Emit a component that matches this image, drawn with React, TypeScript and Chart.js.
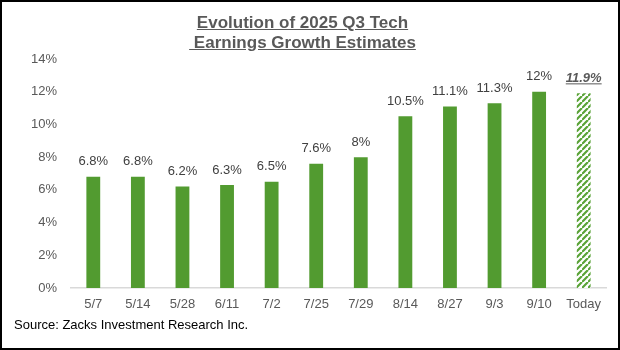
import React, { useEffect, useRef } from "react";
import { Chart, registerables } from "chart.js";

Chart.register(...registerables);

const categories = ["5/7", "5/14", "5/28", "6/11", "7/2", "7/25", "7/29", "8/14", "8/27", "9/3", "9/10", "Today"];
const growthValues = [6.8, 6.8, 6.2, 6.3, 6.5, 7.6, 8, 10.5, 11.1, 11.3, 12, 11.9];
const yTickValues = [0, 2, 4, 6, 8, 10, 12, 14];
const titleLines = ["Evolution of 2025 Q3 Tech", " Earnings Growth Estimates"];
const sourceText = "Source: Zacks Investment Research Inc.";

const GREEN = "#529B30";
const FONT = "Arial, 'Liberation Sans', sans-serif";

function makeHatch(ctx: CanvasRenderingContext2D): CanvasPattern | string {
  const size = 6;
  const c = document.createElement("canvas");
  c.width = size;
  c.height = size;
  const p = c.getContext("2d");
  if (!p) return GREEN;
  p.fillStyle = "#ffffff";
  p.fillRect(0, 0, size, size);
  p.strokeStyle = "#5AA338";
  p.lineWidth = 2.2;
  p.beginPath();
  p.moveTo(0, size);
  p.lineTo(size, 0);
  p.moveTo(-size, size);
  p.lineTo(0, 0);
  p.moveTo(size, 2 * size);
  p.lineTo(2 * size, size);
  p.stroke();
  return ctx.createPattern(c, "repeat") || GREEN;
}

const labelPlugin = {
  id: "barLabels",
  afterDatasetsDraw(chart: any) {
    const ctx = chart.ctx;
    const meta = chart.getDatasetMeta(0);
    ctx.save();
    meta.data.forEach((bar: any, i: number) => {
      const v = growthValues[i];
      const text = v + "%";
      const isLast = i === growthValues.length - 1;
      ctx.textAlign = "center";
      ctx.textBaseline = "middle";
      const y = bar.y - 15;
      if (isLast) {
        ctx.font = "italic bold 13px " + FONT;
        ctx.fillStyle = "#595959";
        ctx.fillText(text, bar.x, y);
        const w = ctx.measureText(text).width;
        ctx.fillRect(bar.x - w / 2, y + 5, w, 1);
      } else {
        ctx.font = "13px " + FONT;
        ctx.fillStyle = "#404040";
        ctx.fillText(text, bar.x, y);
      }
    });
    ctx.restore();
  },
};

export default function App() {
  const canvasRef = useRef<HTMLCanvasElement | null>(null);

  useEffect(() => {
    const canvas = canvasRef.current;
    if (!canvas) return;
    const ctx = canvas.getContext("2d");
    if (!ctx) return;
    const hatch = makeHatch(ctx);
    const colors = growthValues.map((_, i) => (i === growthValues.length - 1 ? hatch : GREEN));

    const chart = new Chart(ctx, {
      type: "bar",
      data: {
        labels: categories,
        datasets: [
          {
            data: growthValues,
            backgroundColor: colors as any,
            borderWidth: 0,
            barPercentage: 0.31,
            categoryPercentage: 1,
          },
        ],
      },
      options: {
        responsive: false,
        animation: false,
        devicePixelRatio: 1,
        layout: { padding: { top: 59, right: 14, left: 0, bottom: 0 } },
        plugins: {
          legend: { display: false },
          title: { display: false },
          tooltip: { enabled: false },
        },
        scales: {
          x: {
            grid: { display: false, drawTicks: false },
            border: { display: true, color: "#D9D9D9", width: 1.5 },
            ticks: {
              color: "#595959",
              font: { family: FONT, size: 13 },
              padding: 9,
              maxRotation: 0,
              autoSkip: false,
            },
            afterFit(scale: any) {
              scale.height = 62;
            },
          },
          y: {
            min: 0,
            max: 14,
            afterBuildTicks(scale: any) {
              scale.ticks = yTickValues.map((v) => ({ value: v }));
            },
            grid: { display: false, drawTicks: false },
            border: { display: false },
            ticks: {
              color: "#595959",
              font: { family: FONT, size: 13 },
              padding: 14,
              callback: (v: any) => v + "%",
            },
            afterFit(scale: any) {
              scale.width = 71;
            },
          },
        },
      },
      plugins: [labelPlugin],
    });
    return () => chart.destroy();
  }, []);

  return (
    <div style={{ position: "absolute", left: 0, top: 0, width: 620, height: 350, background: "#fff", overflow: "hidden" }}>
      <canvas ref={canvasRef} width={620} height={350} style={{ position: "absolute", left: 0, top: 0, width: 620, height: 350 }} />
      <div
        style={{
          position: "absolute",
          left: 0,
          top: 13,
          width: 605,
          textAlign: "center",
          fontFamily: FONT,
          fontWeight: "bold",
          fontSize: 17,
          lineHeight: "20px",
          color: "#595959",
          textDecoration: "underline",
          whiteSpace: "pre",
        }}
      >
        {titleLines[0]}
        {"\n"}
        {titleLines[1]}
      </div>
      <div
        style={{
          position: "absolute",
          left: 14,
          top: 317,
          fontFamily: FONT,
          fontSize: 13,
          lineHeight: "16px",
          color: "#000",
          whiteSpace: "pre",
        }}
      >
        {sourceText}
      </div>
      <div
        style={{
          position: "absolute",
          left: 0,
          top: 0,
          width: 620,
          height: 350,
          boxSizing: "border-box",
          border: "2px solid #000",
          pointerEvents: "none",
        }}
      />
    </div>
  );
}
